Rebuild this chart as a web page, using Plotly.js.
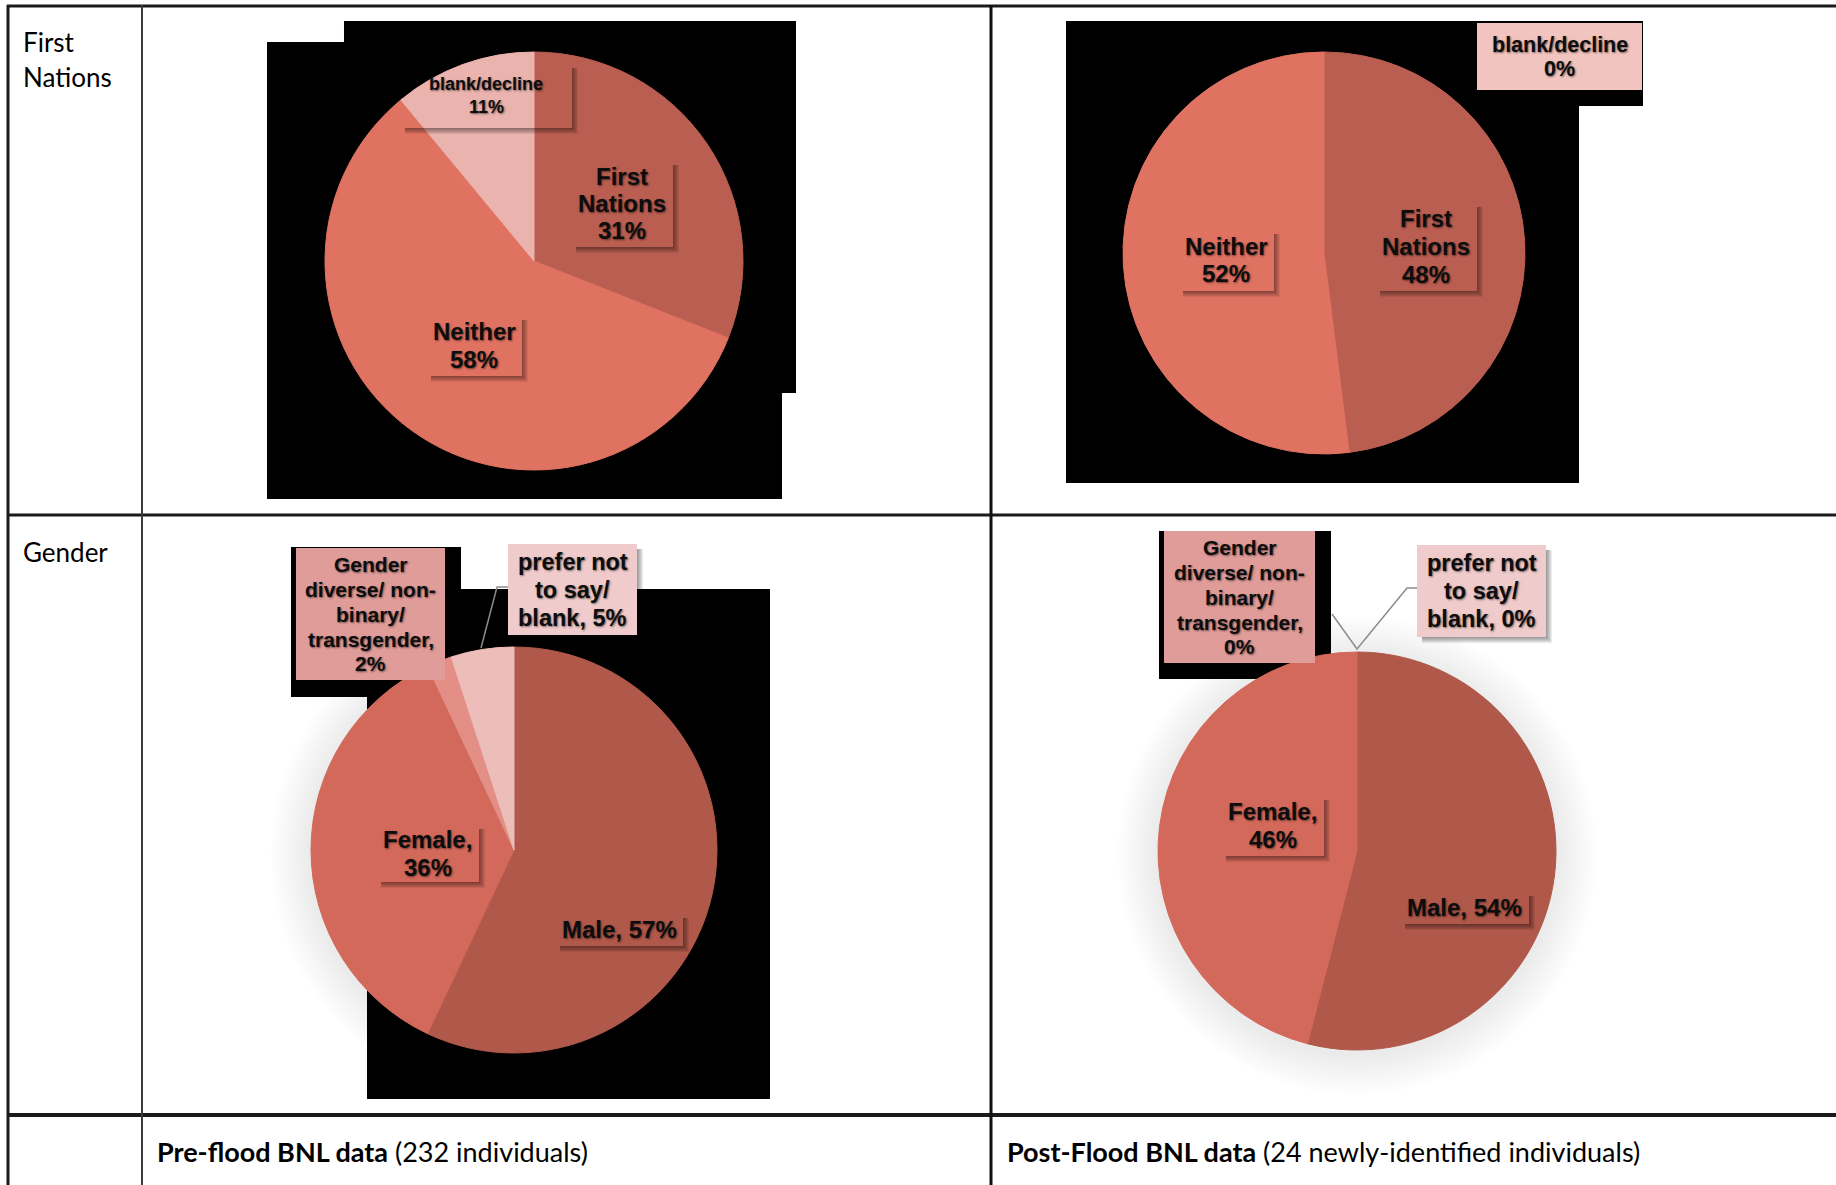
<!DOCTYPE html>
<html>
<head>
<meta charset="utf-8">
<script src="https://cdn.plot.ly/plotly-3.0.1.min.js"></script>
<style>
  html, body { margin: 0; padding: 0; background: #ffffff; }
  #chart { width: 1836px; height: 1185px; }
</style>
</head>
<body>
<div id="chart"></div>
<script>
// ---------------- data ----------------
const fnCategories = ['First Nations', 'Neither', 'blank/decline'];
const fnPreFlood = [31, 58, 11];
const fnPostFlood = [48, 52, 0];
const fnColors = ['#BA5E51', '#E07262', '#EBB3AD'];

const genderCategories = ['Male', 'Female', 'Gender diverse/ non-binary/ transgender', 'prefer not to say/ blank'];
const genderPreFlood = [57, 36, 2, 5];
const genderPostFlood = [54, 46, 0, 0];
const genderColors = ['#B0584A', '#D3695B', '#E38F85', '#EDBDB9'];

const rowHeaders = [['First', 'Nations'], ['Gender']];
const columnTitles = ['Pre-flood BNL data', 'Post-Flood BNL data'];
const columnNotes = ['(232 individuals)', '(24 newly-identified individuals)'];

// how each slice label wraps; {v} is replaced by the slice value
const labelWrap = {
  'First Nations': ['First', 'Nations', '{v}%'],
  'Neither': ['Neither', '{v}%'],
  'blank/decline': ['blank/decline', '{v}%'],
  'Male': ['Male, {v}%'],
  'Female': ['Female,', '{v}%'],
  'Gender diverse/ non-binary/ transgender': ['Gender', 'diverse/ non-', 'binary/', 'transgender,', '{v}%'],
  'prefer not to say/ blank': ['prefer not', 'to say/', 'blank, {v}%']
};

// ---------------- page geometry (pixels) ----------------
const W = 1836, H = 1185;
const X = px => px / W;
const Y = py => 1 - py / H;

const pies = [
  { cats: fnCategories, values: fnPreFlood, colors: fnColors, cx: 534, cy: 261, r: 209,
    labels: [
      { box: [571, 160, 673, 247], size: 24, pitch: 27, shadow: true },
      { box: [426, 315, 522, 376], size: 24, pitch: 27, shadow: true },
      { box: [400, 63, 572, 128], size: 18, pitch: 22, shadow: true }
    ] },
  { cats: fnCategories, values: fnPostFlood, colors: fnColors, cx: 1324, cy: 253, r: 201,
    labels: [
      { box: [1375, 202, 1477, 291], size: 24, pitch: 28, shadow: true },
      { box: [1178, 229, 1274, 291], size: 24, pitch: 28, shadow: true },
      { box: [1477, 23, 1642, 90], size: 21.5, pitch: 24, fill: '#F2C4BF' }
    ] },
  { cats: genderCategories, values: genderPreFlood, colors: genderColors, cx: 514, cy: 850, r: 203,
    haze: true,
    labels: [
      { box: [555, 913, 683, 946], size: 24, pitch: 28, shadow: true },
      { box: [376, 824, 479, 882], size: 24, pitch: 28, shadow: true },
      { box: [296, 548, 445, 680], size: 21, pitch: 25, fill: '#E09C99' },
      { box: [508, 544, 637, 635], size: 23.5, pitch: 28, fill: '#F0CBCB', shadow: true }
    ] },
  { cats: genderCategories, values: genderPostFlood, colors: genderColors, cx: 1357, cy: 851, r: 199,
    haze: true,
    labels: [
      { box: [1400, 891, 1529, 924], size: 24, pitch: 28, shadow: true },
      { box: [1221, 795, 1324, 856], size: 24, pitch: 28, shadow: true },
      { box: [1164, 531, 1315, 663], size: 21, pitch: 25, fill: '#E09C99' },
      { box: [1417, 545, 1546, 637], size: 23.5, pitch: 28, fill: '#F0CBCB', shadow: true }
    ] }
];

// black chart-area blocks behind the pies
const backdrops = [
  [[267, 42], [344, 42], [344, 21], [796, 21], [796, 393], [782, 393], [782, 499], [267, 499]],
  [[1066, 21], [1643, 21], [1643, 106], [1579, 106], [1579, 483], [1066, 483]],
  [[291, 547], [461, 547], [461, 589], [770, 589], [770, 1099], [367, 1099], [367, 697], [291, 697]],
  [[1159, 531], [1331, 531], [1331, 679], [1159, 679]]
];

// leader lines for the small gender slices
const leaders = [
  [[481, 648], [497, 587], [508, 587]],
  [[1332, 614], [1357, 649], [1407, 588], [1417, 588]]
];

const pathOf = (pts, close) =>
  pts.map((p, i) => (i ? 'L' : 'M') + X(p[0]).toFixed(5) + ',' + Y(p[1]).toFixed(5)).join(' ') + (close ? ' Z' : '');

const rect = (x0, y0, x1, y1, fill, layer) => ({
  type: 'rect', xref: 'paper', yref: 'paper',
  x0: X(x0), x1: X(x1), y0: Y(y1), y1: Y(y0),
  fillcolor: fill, line: { width: 0 }, layer: layer || 'above'
});

const shapes = [];
const annotations = [];

// backdrops
backdrops.forEach(pts => shapes.push({
  type: 'path', xref: 'paper', yref: 'paper', path: pathOf(pts, true),
  fillcolor: '#000000', line: { width: 0 }, layer: 'below'
}));

// soft glow around the gender pies
pies.filter(p => p.haze).forEach(p => {
  for (let k = 10; k >= 1; k--) {
    const rr = p.r + k * 4;
    shapes.push({
      type: 'circle', xref: 'paper', yref: 'paper',
      x0: X(p.cx - rr), x1: X(p.cx + rr), y0: Y(p.cy + 4 + rr), y1: Y(p.cy + 4 - rr),
      fillcolor: 'rgba(0,0,0,0.008)', line: { width: 0 }, layer: 'below'
    });
  }
});

// pie traces
const traces = pies.map(p => ({
  type: 'pie',
  labels: p.cats,
  values: p.values,
  sort: false,
  direction: 'clockwise',
  rotation: 0,
  textinfo: 'none',
  hoverinfo: 'label+percent',
  marker: {
    colors: p.colors,
    line: { color: p.colors, width: p.values.map(v => (v > 0 ? 1 : 0)) }
  },
  domain: {
    x: [X(p.cx - p.r), X(p.cx + p.r)],
    y: [Y(p.cy + p.r), Y(p.cy - p.r)]
  },
  showlegend: false
}));

// slice labels: shadow, box fill, and text lines
pies.forEach(p => {
  p.labels.forEach((lab, i) => {
    const [x0, y0, x1, y1] = lab.box;
    if (lab.shadow) {
      for (let k = 1; k <= 6; k++) {
        shapes.push(rect(x1, y0 + 5, x1 + k, y1 + k, 'rgba(0,0,0,0.075)'));
        shapes.push(rect(x0 + 5, y1, x1, y1 + k, 'rgba(0,0,0,0.075)'));
      }
    }
    if (lab.fill) shapes.push(rect(x0, y0, x1, y1, lab.fill));
    const lines = labelWrap[p.cats[i]].map(s => s.replace('{v}', p.values[i]));
    const mid = (y0 + y1) / 2;
    lines.forEach((txt, j) => {
      const ly = mid + (j - (lines.length - 1) / 2) * lab.pitch;
      annotations.push({
        xref: 'paper', yref: 'paper', x: X((x0 + x1) / 2), y: Y(ly),
        xanchor: 'center', yanchor: 'middle', showarrow: false,
        text: '<b>' + txt + '</b>',
        font: { family: 'Liberation Sans, Arial, sans-serif', size: lab.size, color: '#0d0d0d',
                shadow: '1px 1px 2px rgba(0,0,0,0.5)' }
      });
    });
  });
});

// leader lines
leaders.forEach(pts => shapes.push({
  type: 'path', xref: 'paper', yref: 'paper', path: pathOf(pts, false),
  fillcolor: 'rgba(0,0,0,0)', line: { color: '#8C8C8C', width: 1.5 }, layer: 'above'
}));

// table rules
const hline = (y, xa, xb, w, c) => ({ type: 'line', xref: 'paper', yref: 'paper',
  x0: X(xa), x1: X(xb), y0: Y(y), y1: Y(y), line: { color: c, width: w }, layer: 'above' });
const vline = (x, ya, yb, w, c) => ({ type: 'line', xref: 'paper', yref: 'paper',
  x0: X(x), x1: X(x), y0: Y(ya), y1: Y(yb), line: { color: c, width: w }, layer: 'above' });
shapes.push(hline(6, 7, W, 3, '#1a1a1a'));
shapes.push(hline(515, 7, W, 3, '#1a1a1a'));
shapes.push(hline(1115, 7, W, 4, '#1a1a1a'));
shapes.push(vline(8, 5, H, 3, '#1a1a1a'));
shapes.push(vline(142, 5, H, 2, '#3a3a3a'));
shapes.push(vline(991, 5, H, 3, '#111111'));

// row headers
const headerFont = { family: 'Lato, Open Sans, sans-serif', size: 26, color: '#000000' };
const headerTops = [42, 552];
rowHeaders.forEach((lines, r) => {
  lines.forEach((txt, j) => annotations.push({
    xref: 'paper', yref: 'paper', x: X(21), y: Y(headerTops[r] + j * 35),
    xanchor: 'left', yanchor: 'middle', showarrow: false, text: txt, font: headerFont
  }));
});

// column captions
const captionX = [155, 1005];
columnTitles.forEach((t, c) => annotations.push({
  xref: 'paper', yref: 'paper', x: X(captionX[c]), y: Y(1151),
  xanchor: 'left', yanchor: 'middle', showarrow: false,
  text: '<b>' + t + '</b> ' + columnNotes[c],
  font: { family: 'Lato, Open Sans, sans-serif', size: 27, color: '#000000' }
}));

const layout = {
  width: W, height: H,
  margin: { l: 0, r: 0, t: 0, b: 0 },
  paper_bgcolor: '#ffffff', plot_bgcolor: '#ffffff',
  showlegend: false,
  shapes: shapes,
  annotations: annotations
};

Plotly.newPlot('chart', traces, layout, { staticPlot: true, displayModeBar: false });
</script>
</body>
</html>
